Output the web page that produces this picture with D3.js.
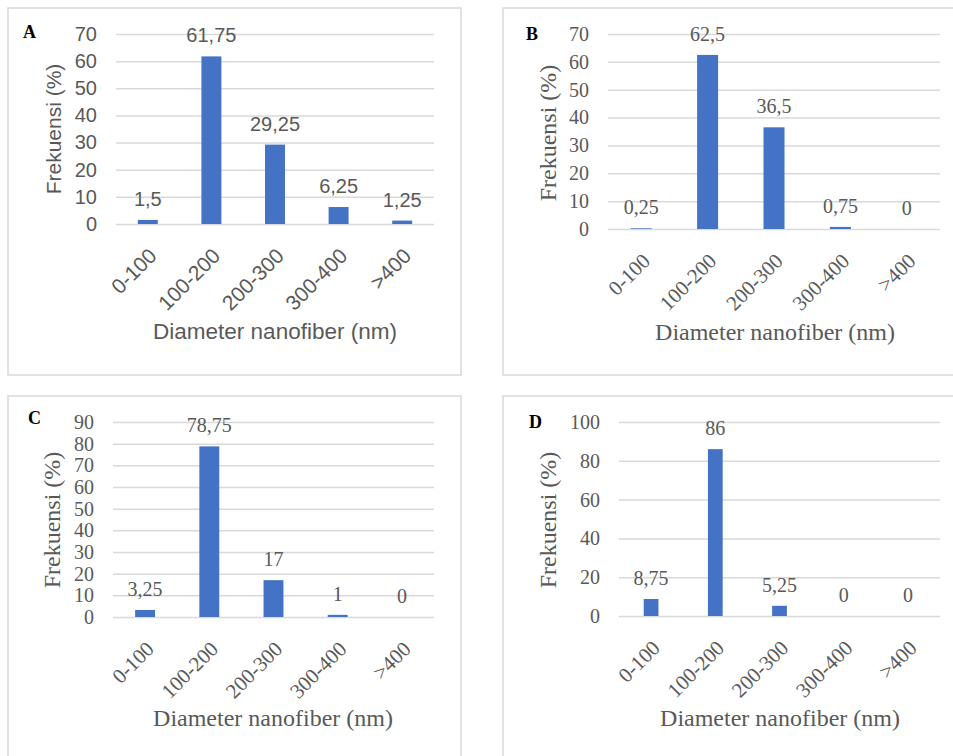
<!DOCTYPE html>
<html lang="en">
<head>
<meta charset="UTF-8">
<script src="https://d3js.org/d3.v7.min.js"></script>
<title>Diameter nanofiber</title>
<style>
  body { margin: 0; background: #fff; }
</style>
</head>
<body>
<div id="chart"></div>
<script>
    // categories shared by all four panels
    const categories = ["0-100", "100-200", "200-300", "300-400", ">400"];

    // frequency values (%) for each panel
    const valuesA = [1.5, 61.75, 29.25, 6.25, 1.25];
    const valuesB = [0.25, 62.5, 36.5, 0.75, 0];
    const valuesC = [3.25, 78.75, 17, 1, 0];
    const valuesD = [8.75, 86, 5.25, 0, 0];

    // y tick values
    const ticksA = [0, 10, 20, 30, 40, 50, 60, 70];
    const ticksB = [0, 10, 20, 30, 40, 50, 60, 70];
    const ticksC = [0, 10, 20, 30, 40, 50, 60, 70, 80, 90];
    const ticksD = [0, 20, 40, 60, 80, 100];

    const xTitle = "Diameter nanofiber (nm)";
    const yTitle = "Frekuensi (%)";

    const width = 953;
    const height = 756;

    const svg = d3.select("#chart")
        .append("svg")
        .attr("width", width)
        .attr("height", height);

    const sans = "'Liberation Sans', Arial, sans-serif";
    const serif = "'Liberation Serif', 'Times New Roman', serif";

    // panel layout (positions only)
    const panels = [
        { letter: "A", values: valuesA, ticks: ticksA, font: sans, fs: 20, xfs: 21, tfs: 22.5, yfs: 21,
          box: [8, 8, 453, 367], x0: 116, x1: 434, yTop: 34, yBase: 224, pad: 0.686,
          lx: 23, ly: 38, ytx: 54, yty: 129, xtx: 275, xty: 331 },
        { letter: "B", values: valuesB, ticks: ticksB, font: serif, fs: 20, xfs: 21, tfs: 24, yfs: 24,
          box: [503, 8, 470, 367], x0: 608, x1: 940, yTop: 34, yBase: 229, pad: 0.684,
          lx: 526, ly: 40, ytx: 548, yty: 133, xtx: 775, xty: 332 },
        { letter: "C", values: valuesC, ticks: ticksC, font: serif, fs: 20, xfs: 21, tfs: 24, yfs: 24,
          box: [8, 396, 453, 380], x0: 113, x1: 434, yTop: 422, yBase: 617, pad: 0.69,
          lx: 28, ly: 424, ytx: 52, yty: 520, xtx: 273, xty: 718 },
        { letter: "D", values: valuesD, ticks: ticksD, font: serif, fs: 20, xfs: 21, tfs: 24, yfs: 24,
          box: [503, 396, 470, 380], x0: 619, x1: 940, yTop: 422, yBase: 616, pad: 0.77,
          lx: 529, ly: 428, ytx: 548, yty: 520, xtx: 780, xty: 718 }
    ];

    const grey = "#595959";
    const fmt = v => String(v).replace(".", ",");

    panels.forEach(p => {
        const g = svg.append("g");

        // panel frame
        g.append("rect")
            .attr("x", p.box[0]).attr("y", p.box[1])
            .attr("width", p.box[2]).attr("height", p.box[3])
            .attr("fill", "none")
            .attr("stroke", "#d9d9d9")
            .attr("stroke-width", 1.5);

        const x = d3.scaleBand()
            .domain(categories)
            .range([p.x0, p.x1])
            .paddingInner(p.pad)
            .paddingOuter(p.pad / 2);

        const yMax = d3.max(p.ticks);
        const y = d3.scaleLinear()
            .domain([0, yMax])
            .range([p.yBase, p.yTop]);

        // y axis with gridlines
        const yAxis = d3.axisLeft(y)
            .tickValues(p.ticks)
            .tickSizeInner(-(p.x1 - p.x0))
            .tickSizeOuter(0)
            .tickPadding(19);

        const ay = g.append("g")
            .attr("transform", `translate(${p.x0},0)`)
            .call(yAxis);
        ay.select(".domain").remove();
        ay.selectAll("line")
            .attr("stroke", "#d9d9d9")
            .attr("stroke-width", 1.5);
        ay.selectAll("text")
            .attr("fill", grey)
            .style("font-family", p.font)
            .style("font-size", p.fs + "px");

        // bars
        g.selectAll(".bar")
            .data(p.values)
            .join("rect")
            .attr("x", (d, i) => x(categories[i]))
            .attr("y", d => y(d))
            .attr("width", x.bandwidth())
            .attr("height", d => p.yBase - y(d))
            .attr("fill", "#4472c4");

        // value labels
        g.selectAll(".val")
            .data(p.values)
            .join("text")
            .attr("x", (d, i) => x(categories[i]) + x.bandwidth() / 2)
            .attr("y", d => y(d) - 14)
            .attr("text-anchor", "middle")
            .attr("fill", grey)
            .style("font-family", p.font)
            .style("font-size", p.fs + "px")
            .text(d => fmt(d));

        // x axis labels, rotated
        const xAxis = d3.axisBottom(x).tickSize(0).tickPadding(0);
        const ax = g.append("g")
            .attr("transform", `translate(0,${p.yBase})`)
            .call(xAxis);
        ax.select(".domain").remove();
        ax.selectAll("text")
            .attr("fill", grey)
            .style("font-family", p.font)
            .style("font-size", p.xfs + "px")
            .attr("text-anchor", "end")
            .attr("y", null)
            .attr("transform", "translate(5,28) rotate(-45)")
            .attr("dy", "0.35em");

        // axis titles
        g.append("text")
            .attr("x", p.xtx)
            .attr("y", p.xty)
            .attr("dy", "0.35em")
            .attr("text-anchor", "middle")
            .attr("fill", grey)
            .style("font-family", p.font)
            .style("font-size", p.tfs + "px")
            .text(xTitle);

        g.append("text")
            .attr("transform", `translate(${p.ytx},${p.yty}) rotate(-90)`)
            .attr("dy", "0.35em")
            .attr("text-anchor", "middle")
            .attr("fill", grey)
            .style("font-family", p.font)
            .style("font-size", p.yfs + "px")
            .text(yTitle);

        // panel letter
        g.append("text")
            .attr("x", p.lx)
            .attr("y", p.ly)
            .attr("fill", "#000")
            .style("font-family", serif)
            .style("font-weight", "bold")
            .style("font-size", "18px")
            .text(p.letter);
    });
</script>
</body>
</html>
